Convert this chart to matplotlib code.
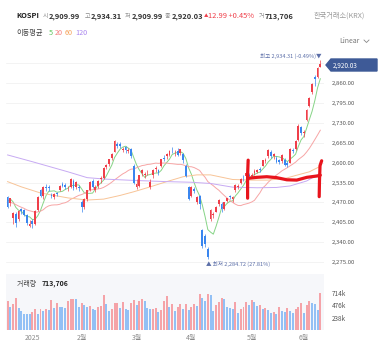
import numpy as np
import matplotlib
matplotlib.use("Agg")
import matplotlib.pyplot as plt
from matplotlib.patches import Polygon
from matplotlib.lines import Line2D

plt.rcParams['font.family'] = ['Noto Sans CJK KR', 'DejaVu Sans']

# DATA  (KOSPI daily, 2024-12-17 .. 2025-06-12)

# closes of the 19 sessions before the first candle, only for the 5/20 day averages
prior_close = [2482.0, 2480.6, 2501.2, 2534.3, 2520.4, 2503.1, 2504.7, 2455.9, 2442.5, 2500.1,
               2464.0, 2441.9, 2428.2, 2360.6, 2417.8, 2442.5, 2482.1, 2494.5, 2488.9]

opens = [2489, 2467, 2418, 2432, 2415, 2448, 2444, 2428, 2395, 2410,
         2400, 2446, 2510, 2490, 2520, 2521, 2496, 2488, 2502, 2510,
         2530, 2527, 2516, 2520, 2540, 2520, 2520, 2470, 2455, 2480,
         2510, 2540, 2512, 2525, 2545, 2550, 2585, 2595, 2615, 2636,
         2662, 2660, 2640, 2650, 2637, 2644, 2590, 2520, 2525, 2565,
         2560, 2568, 2520, 2560, 2578, 2575, 2590, 2615, 2620, 2625,
         2645, 2630, 2638, 2630, 2628, 2590, 2520, 2490, 2515, 2470,
         2490, 2380, 2360, 2320, 2415, 2430, 2440, 2465, 2465, 2450,
         2475, 2490, 2480, 2510, 2522, 2535, 2550, 2555, 2560, 2555,
         2565, 2570, 2580, 2590, 2605, 2620, 2635, 2620, 2615, 2608,
         2605, 2610, 2600, 2600, 2640, 2645, 2675, 2715, 2695, 2740,
         2785, 2830, 2878, 2880, 2909.99]
highs = [2492, 2486, 2440, 2438, 2445, 2452, 2450, 2433, 2412, 2415,
         2445, 2492, 2514, 2525, 2530, 2527, 2502, 2500, 2505, 2527,
         2537, 2534, 2525, 2550, 2545, 2540, 2527, 2478, 2485, 2512,
         2540, 2545, 2526, 2543, 2555, 2586, 2596, 2612, 2630, 2673,
         2666, 2667, 2652, 2655, 2647, 2648, 2594, 2545, 2560, 2580,
         2570, 2575, 2545, 2578, 2590, 2580, 2612, 2625, 2632, 2640,
         2650, 2640, 2648, 2645, 2632, 2595, 2525, 2525, 2520, 2490,
         2495, 2385, 2368, 2325, 2450, 2440, 2460, 2480, 2470, 2473,
         2486, 2495, 2492, 2530, 2530, 2550, 2560, 2568, 2565, 2565,
         2580, 2580, 2585, 2610, 2615, 2645, 2640, 2630, 2620, 2612,
         2628, 2615, 2605, 2648, 2648, 2675, 2725, 2720, 2705, 2775,
         2815, 2858, 2885, 2910, 2934.31]
lows = [2452, 2460, 2400, 2391, 2410, 2432, 2425, 2396, 2390, 2386,
        2398, 2443, 2488, 2483, 2508, 2508, 2485, 2482, 2490, 2506,
        2519, 2514, 2508, 2517, 2511, 2515, 2508, 2440, 2450, 2476,
        2506, 2518, 2505, 2517, 2535, 2548, 2578, 2590, 2608, 2633,
        2646, 2648, 2634, 2632, 2630, 2615, 2530, 2515, 2520, 2555,
        2549, 2560, 2515, 2550, 2570, 2560, 2585, 2605, 2612, 2620,
        2630, 2622, 2620, 2625, 2600, 2552, 2478, 2488, 2500, 2465,
        2450, 2322, 2325, 2284.72, 2410, 2420, 2438, 2460, 2440, 2445,
        2470, 2480, 2472, 2505, 2515, 2530, 2540, 2550, 2545, 2550,
        2560, 2565, 2568, 2588, 2598, 2615, 2615, 2612, 2598, 2595,
        2600, 2588, 2585, 2598, 2630, 2640, 2672, 2690, 2685, 2735,
        2780, 2825, 2850, 2875, 2909.99]
closes = [2456.8, 2484.4, 2435.9, 2404.2, 2442.0, 2440.8, 2429.7, 2404.8, 2399.5, 2398.9,
          2441.9, 2488.6, 2492.1, 2521.9, 2515.8, 2515.8, 2489.6, 2497.4, 2498.0, 2523.6,
          2523.6, 2520.1, 2518.0, 2547.1, 2515.8, 2536.8, 2517.4, 2453.9, 2481.7, 2509.3,
          2536.8, 2522.0, 2521.9, 2539.1, 2548.4, 2583.2, 2591.1, 2610.4, 2626.8, 2671.5,
          2654.6, 2654.6, 2645.3, 2641.0, 2641.1, 2621.8, 2532.8, 2529.0, 2558.1, 2576.2,
          2563.5, 2570.4, 2537.6, 2574.8, 2583.3, 2566.4, 2610.7, 2612.3, 2628.6, 2637.1,
          2643.1, 2632.9, 2624.0, 2643.1, 2607.2, 2557.9, 2481.1, 2521.4, 2505.9, 2486.7,
          2465.4, 2328.2, 2334.2, 2293.7, 2445.1, 2432.7, 2455.9, 2477.4, 2447.4, 2470.4,
          2483.4, 2488.4, 2486.6, 2525.6, 2522.3, 2546.3, 2548.9, 2565.4, 2556.6, 2559.8,
          2573.8, 2576.3, 2577.3, 2607.3, 2608.4, 2640.6, 2621.0, 2626.9, 2603.4, 2601.1,
          2625.6, 2593.7, 2592.1, 2644.4, 2637.2, 2670.4, 2720.6, 2697.7, 2698.9, 2770.8,
          2812.1, 2855.8, 2871.8, 2907.04, 2920.03]

# volume, thousand shares, and bar colour (R = more than the day before, B = less)
volume_k = [555, 434, 498, 606, 415, 370, 310, 306, 304, 338,
            402, 300, 396, 370, 396, 383, 574, 415, 523, 434,
            432, 430, 561, 587, 600, 598, 447, 517, 472, 434,
            466, 402, 383, 440, 453, 670, 498, 364, 402, 517,
            519, 427, 530, 396, 383, 523, 574, 479, 555, 593,
            561, 427, 396, 398, 415, 345, 383, 555, 651, 440,
            491, 364, 434, 504, 396, 504, 383, 434, 491, 459,
            683, 606, 555, 689, 664, 364, 479, 542, 606, 593,
            447, 415, 402, 530, 332, 396, 447, 542, 479, 574,
            530, 466, 479, 396, 415, 383, 332, 351, 306, 447,
            357, 351, 421, 370, 319, 396, 447, 510, 319, 479,
            549, 523, 498, 383, 713.706]
volume_dir = ("RBRRBBBBBR" "RBRBRBRBRB" "BBRRRBBRBB" "RBBRRRBBRR" "RBRBBRRBRR"
              "BBBRRBRRRB" "RBRRBRBRRB" "RBBRBBRRRB" "BBBRBRRRBR" "BBRBRBBRBR"
              "BBRBBRRRBR" "RBBBR")

# 60 and 120 day averages: (candle index, value)
ma60_pts = [(0, 2538), (5, 2521), (12, 2501), (22, 2485), (29, 2478), (35, 2481),
            (41, 2493), (46, 2505), (52, 2521), (58, 2538), (64, 2554), (69, 2560),
            (74, 2560), (82, 2545), (89, 2543), (95, 2543), (101, 2548), (105, 2558),
            (110, 2570), (114, 2588)]
ma120_pts = [(0, 2625), (9, 2603), (22, 2570), (29, 2551), (36, 2546), (46, 2542),
             (58, 2538), (67, 2536), (74, 2532), (82, 2520), (91, 2518), (98, 2519),
             (103, 2524), (109, 2540), (114, 2565)]

month_ticks = [9, 27, 47, 67, 89, 108]
month_labels = ["2025", "2월", "3월", "4월", "5월", "6월"]
price_ticks = [2275, 2340, 2405, 2470, 2535, 2600, 2665, 2730, 2795, 2860]
vol_ticks = [238, 476, 714]

# hand-drawn red marks on top of the chart (candle index, price)
mark_left = [(87.7, 2608), (87.5, 2560), (87.5, 2484)]
mark_flat = [(87.8, 2549), (90.9, 2552), (94.5, 2554), (98.1, 2551), (101.8, 2544),
             (105.4, 2543), (109.1, 2552), (113.3, 2557), (114.0, 2559)]
mark_right = [(114.5, 2606), (113.9, 2590), (113.7, 2540), (113.6, 2489)]

# COLORS
UP, DOWN = '#ef3f4a', '#3a86ef'
VUP, VDOWN = '#f5a3a8', '#92c0f5'
C5, C20, C60, C120 = '#86d486', '#f7a5a5', '#f8c497', '#c7aaf3'

W, H = 386, 353
fig = plt.figure(figsize=(W / 100, H / 100), dpi=100)
fig.patch.set_facecolor('white')


def fx(px):
    return px / W


def fy(py):
    return 1 - py / H


ax = fig.add_axes([fx(6), fy(270), 318 / W, 220 / H])
axv = fig.add_axes([fx(6), fy(330), 318 / W, 56 / H])

o = np.array(opens, float)
h = np.array(highs, float)
l = np.array(lows, float)
c = np.array(closes, float)
n = len(c)
idx = np.arange(n)

# moving averages 5 / 20 from closes
allc = np.concatenate([prior_close, c])
ma5 = np.array([allc[i + 15:i + 20].mean() for i in range(n)])
ma20 = np.array([allc[i:i + 20].mean() for i in range(n)])

for a in (ax, axv):
    for s in a.spines.values():
        s.set_visible(False)
    a.set_xlim(-0.58, 115.35)
    a.tick_params(left=False, bottom=False, labelbottom=False, labelleft=False)

# price panel
ax.set_ylim(2250, 2967)
for p in price_ticks + [2925]:
    ax.axhline(p, color='#efefef', lw=0.5, zorder=0)

ax.plot(idx, ma5, color=C5, lw=0.7, zorder=2)
ax.plot(idx, ma20, color=C20, lw=0.7, zorder=2)
m60 = np.array(ma60_pts)
m120 = np.array(ma120_pts)
ax.plot(m60[:, 0], m60[:, 1], color=C60, lw=0.7, zorder=2)
ax.plot(m120[:, 0], m120[:, 1], color=C120, lw=0.7, zorder=2)

col = np.where(c >= o, UP, DOWN)
ax.vlines(idx, l, h, colors=col, lw=0.5, zorder=3)
body_bot = np.minimum(o, c)
body_h = np.maximum(np.abs(c - o), 2.5)
ax.bar(idx, body_h, bottom=body_bot, width=0.66, color=col, lw=0, zorder=4)

ax.yaxis.tick_right()
ax.set_yticks(price_ticks)
ax.set_yticklabels([f"{p:,.2f}" for p in price_ticks])
ax.tick_params(axis='y', right=False, length=0, labelright=True, pad=5.5,
               labelsize=4.3, labelcolor='#555555')

for pts in (mark_left, mark_flat, mark_right):
    pts = np.array(pts)
    ax.plot(pts[:, 0], pts[:, 1], color='#e8141c', lw=2.3, solid_capstyle='round',
            solid_joinstyle='round', zorder=6)

# high / low notes
hi_i = int(np.argmax(h))
lo_i = int(np.argmin(l))
last = c[-1]
ax.annotate(f"최고 {h[hi_i]:,.2f} ({(last - h[hi_i]) / h[hi_i] * 100:.2f}%)▼",
            xy=(hi_i, h[hi_i]), xytext=(1, 0.5), textcoords='offset points',
            ha='right', va='bottom', fontsize=4.0, color='#5b6ea8', zorder=7)
ax.annotate(f"▲ 최저 {l[lo_i]:,.2f} ({(last - l[lo_i]) / l[lo_i] * 100:.2f}%)",
            xy=(lo_i, l[lo_i]), xytext=(-1, -1.5), textcoords='offset points',
            ha='left', va='top', fontsize=4.0, color='#5b6ea8', zorder=7)

# volume panel
axv.set_facecolor('#f6f7fa')
axv.set_ylim(0, 1072)
vcol = [VUP if d == 'R' else VDOWN for d in volume_dir]
axv.bar(idx, volume_k, width=0.72, color=vcol, lw=0, zorder=3)
axv.yaxis.tick_right()
axv.set_yticks(vol_ticks)
axv.set_yticklabels([f"{v}k" for v in vol_ticks])
axv.tick_params(axis='y', right=False, length=0, labelright=True, pad=5.5,
                labelsize=4.6, labelcolor='#555555')
axv.set_xticks(month_ticks)
axv.set_xticklabels(month_labels)
axv.tick_params(axis='x', labelbottom=True, bottom=False, length=0, pad=3,
                labelsize=5, labelcolor='#8a8a8a')
axv.text(0.035, 0.83, "거래량 ", transform=axv.transAxes, fontsize=5, color='#444444',
         va='center', ha='left')
axv.text(0.113, 0.83, f"{volume_k[-1] * 1000:,.0f}", transform=axv.transAxes,
         fontsize=5, color='#222222', va='center', ha='left', fontweight='bold')

# price tag on the right
tag = Polygon([(fx(326), fy(65)), (fx(331), fy(59)), (fx(377), fy(59)),
               (fx(377), fy(71)), (fx(331), fy(71))], closed=True,
              transform=fig.transFigure, color='#3e5a97', zorder=10)
fig.patches.append(tag)
fig.text(fx(333), fy(65.3), f"{last:,.2f}", color='white', fontsize=4.6,
         va='center', ha='left', zorder=11)

# header
hdr_y = 16
pieces = [
    (16, "KOSPI", '#222222', 'bold', 5.4),
    (43, "시", '#8a8a8a', 'normal', 4.4), (49, f"{o[-1]:,.2f}", '#333333', 'bold', 5.4),
    (84.5, "고", '#8a8a8a', 'normal', 4.4), (91, f"{h[-1]:,.2f}", '#333333', 'bold', 5.4),
    (125, "저", '#8a8a8a', 'normal', 4.4), (132, f"{l[-1]:,.2f}", '#333333', 'bold', 5.4),
    (165, "종", '#8a8a8a', 'normal', 4.4), (172, f"{last:,.2f}", '#333333', 'bold', 5.4),
    (203.5, "▲", '#ef3f4a', 'normal', 3.2),
    (208, f"{last - c[-2]:.2f} +{(last - c[-2]) / c[-2] * 100:.2f}%", '#ef3f4a', 'normal', 5.4),
    (258.5, "거", '#8a8a8a', 'normal', 4.4),
    (265, f"{volume_k[-1] * 1000:,.0f}", '#333333', 'bold', 5.4),
]
for x, s, colr, wgt, fs in pieces:
    fig.text(fx(x), fy(hdr_y), s, color=colr, fontsize=fs, fontweight=wgt,
             va='center', ha='left')
fig.text(fx(314), fy(hdr_y), "한국거래소(KRX)", color='#9a9a9a', fontsize=5.2,
         va='center', ha='left')

ma_y = 33
fig.text(fx(16), fy(ma_y), "이동평균", color='#444444', fontsize=5.2, va='center', ha='left')
for x, s, colr in [(49, "5", '#5cc55c'), (55, "20", '#f47e7e'), (65, "60", '#f5a25a'),
                   (75, "120", '#a985ef')]:
    fig.text(fx(x), fy(ma_y), s, color=colr, fontsize=5.2, va='center', ha='left')

fig.text(fx(339), fy(41), "Linear", color='#777777', fontsize=5, va='center', ha='left')
fig.lines.append(Line2D([fx(364), fx(366.5), fx(369)], [fy(40), fy(42.5), fy(40)],
                        transform=fig.transFigure, color='#888888', lw=0.6))

fig.savefig("out.png", dpi=100)
